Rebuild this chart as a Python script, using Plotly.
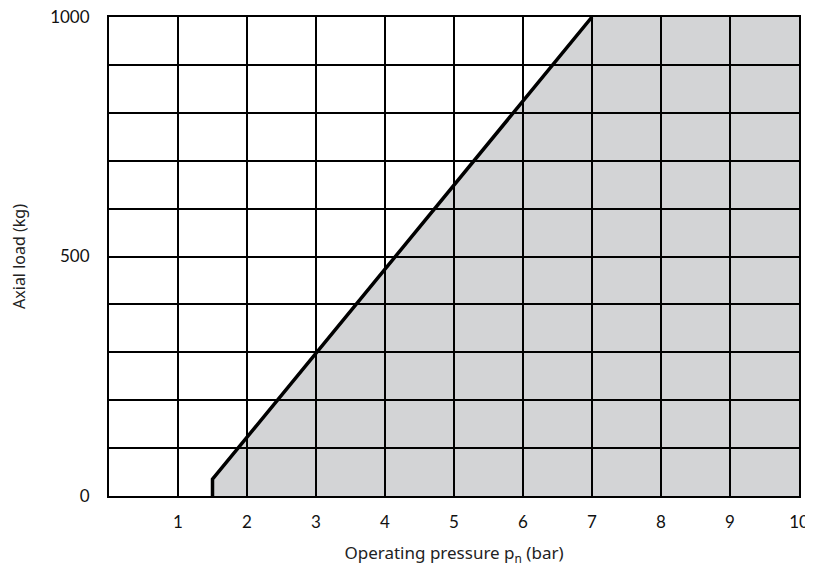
import plotly.graph_objects as go

# Boundary of the permissible region (operating pressure bar, axial load kg)
boundary_x = [1.5, 1.5, 7.0]
boundary_y = [0, 35, 1000]

x_range = [0, 10]
y_range = [0, 1000]

x_tickvals = [1, 2, 3, 4, 5, 6, 7, 8, 9, 10]
x_ticktext = ["1", "2", "3", "4", "5", "6", "7", "8", "9", "10"]
y_tickvals = [0, 100, 200, 300, 400, 500, 600, 700, 800, 900, 1000]
y_ticktext = ["0", "", "", "", "", "500", "", "", "", "", "1000"]

# filled polygon: boundary, then top-right and bottom-right corners
poly_x = boundary_x + [x_range[1], x_range[1]]
poly_y = boundary_y + [y_range[1], y_range[0]]
path = "M " + " L ".join(f"{x},{y}" for x, y in zip(poly_x, poly_y)) + " Z"

fig = go.Figure()
fig.add_trace(go.Scatter(x=boundary_x, y=boundary_y, mode="lines",
                         line=dict(color="black", width=3.5), hoverinfo="skip",
                         showlegend=False))

fig.add_shape(type="path", path=path, xref="x", yref="y",
              fillcolor="#d3d4d6", line=dict(width=0), layer="below")

tick_font = "Lato, 'Open Sans', sans-serif"
title_font = "'Noto Sans', 'Open Sans', sans-serif"
fig.update_layout(
    width=805, height=558,
    margin=dict(l=101, r=14, t=9, b=70, autoexpand=False),
    paper_bgcolor="white", plot_bgcolor="white",
    font=dict(family=tick_font, color="#111"),
    xaxis=dict(range=x_range, tickvals=x_tickvals, ticktext=x_ticktext,
               automargin=False, ticklabeloverflow="allow",
               showgrid=True, gridcolor="black", gridwidth=2,
               showline=True, linecolor="black", linewidth=2, mirror=True,
               zeroline=False, ticks="", ticklabelstandoff=10,
               tickfont=dict(size=17, color="#111"),
               title=dict(text="Operating pressure p<sub>n</sub> (bar)",
                          font=dict(family=title_font, size=17, color="#222"),
                          standoff=16)),
    yaxis=dict(range=y_range, tickvals=y_tickvals, ticktext=y_ticktext,
               automargin=False, ticklabeloverflow="allow",
               showgrid=True, gridcolor="black", gridwidth=1.5,
               showline=True, linecolor="black", linewidth=2, mirror=True,
               zeroline=False, ticks="", ticklabelstandoff=14,
               tickfont=dict(size=17, color="#111"),
               title=dict(text="Axial load (kg)",
                          font=dict(family=title_font, size=16, color="#222"),
                          standoff=22)),
)

fig.write_html("out.html")
